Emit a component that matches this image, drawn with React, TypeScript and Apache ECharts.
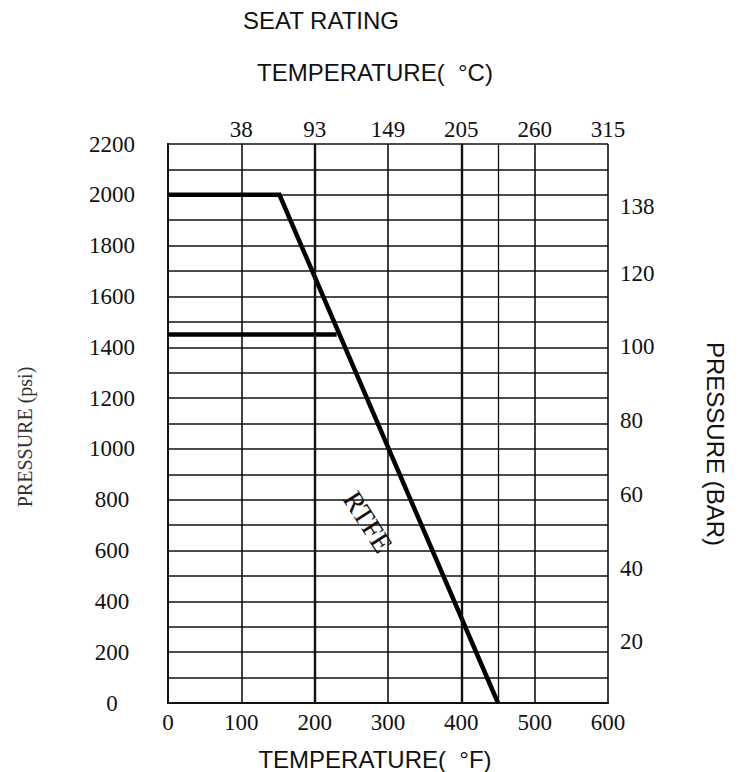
import React, { useEffect, useRef } from "react";
import * as echarts from "echarts";

// Temperature axis (°F) ticks and matching °C labels on the top axis
const fahrenheitTicks = [0, 100, 200, 300, 400, 500, 600];
const celsiusLabels = ["", "38", "93", "149", "205", "260", "315"];
// Extra vertical reference line (°F)
const extraTempLines = [450];
const thickTempLines = [200, 400];
// Left axis (psi): grid every 100, labels every 200
const psiLabelStep = 200;
// Right axis (bar) labels
const barLabels = [20, 40, 60, 80, 100, 120, 138];
const PSI_PER_BAR = 14.5038;
const PSI_MAX = 2200;

// PTFE seat rating curves: [°F, psi]
const ptfeUpper: [number, number][] = [
  [0, 2000],
  [152, 2000],
  [450, 0],
];
const ptfeLower: [number, number][] = [
  [0, 1450],
  [230, 1450],
];

const SERIF = "'Liberation Serif', 'DejaVu Serif', serif";
const SANS = "'Liberation Sans', Arial, sans-serif";
const INK = "#111";

export default function App() {
  const ref = useRef<HTMLDivElement>(null);

  useEffect(() => {
    if (!ref.current) return;
    const chart = echarts.init(ref.current, undefined, { renderer: "svg" });

    const axisLine = { show: true, lineStyle: { color: INK, width: 2 } };

    chart.setOption({
      animation: false,
      backgroundColor: "#fff",
      grid: { left: 168, right: 132, top: 144, bottom: 69, containLabel: false },
      xAxis: [
        {
          type: "value",
          position: "bottom",
          min: fahrenheitTicks[0],
          max: fahrenheitTicks[fahrenheitTicks.length - 1],
          interval: 100,
          axisLine,
          axisTick: { show: false },
          axisLabel: {
            margin: 8,
            fontFamily: SERIF,
            fontSize: 23,
            color: INK,
            formatter: (v: number) => String(v),
          },
          splitLine: { show: true, lineStyle: { color: INK, width: 1.6 } },
        },
        {
          type: "value",
          position: "top",
          min: fahrenheitTicks[0],
          max: fahrenheitTicks[fahrenheitTicks.length - 1],
          interval: 100,
          axisLine,
          axisTick: { show: false },
          axisLabel: {
            margin: 3,
            fontFamily: SERIF,
            fontSize: 23,
            color: INK,
            formatter: (v: number) => celsiusLabels[fahrenheitTicks.indexOf(v)] ?? "",
          },
          splitLine: { show: false },
        },
      ],
      yAxis: [
        {
          type: "value",
          position: "left",
          min: 0,
          max: PSI_MAX,
          interval: 100,
          axisLine,
          axisTick: { show: false },
          axisLabel: {
            margin: 56,
            align: "center",
            fontFamily: SERIF,
            fontSize: 23,
            color: INK,
            formatter: (v: number) => (v % psiLabelStep === 0 ? String(v) : ""),
          },
          splitLine: { show: true, lineStyle: { color: INK, width: 1.6 } },
        },
        {
          type: "value",
          position: "right",
          min: 0,
          max: PSI_MAX / PSI_PER_BAR,
          axisLine,
          axisTick: { show: false },
          axisLabel: {
            customValues: barLabels,
            margin: 12,
            verticalAlign: "top",
            padding: [1, 0, 0, 0],
            fontFamily: SERIF,
            fontSize: 23,
            color: INK,
          },
          splitLine: { show: false },
        },
      ],
      series: [
        {
          type: "line",
          name: "PTFE upper",
          xAxisIndex: 0,
          yAxisIndex: 0,
          data: ptfeUpper,
          symbol: "none",
          lineStyle: { color: "#000", width: 4.5, join: "miter" },
          markLine: {
            silent: true,
            symbol: ["none", "none"],
            label: { show: false },
            data: [
              ...extraTempLines.map((v) => ({
                xAxis: v,
                lineStyle: { color: INK, width: 1.3, type: "solid" },
              })),
              ...thickTempLines.map((v) => ({
                xAxis: v,
                lineStyle: { color: INK, width: 2.4, type: "solid" },
              })),
            ],
          },
        },
        {
          type: "line",
          name: "PTFE lower",
          xAxisIndex: 0,
          yAxisIndex: 0,
          data: ptfeLower,
          symbol: "none",
          lineStyle: { color: "#000", width: 4.5 },
        },
      ],
      graphic: [
        {
          type: "text",
          x: 321,
          y: 20,
          style: {
            text: "SEAT RATING",
            font: `24px ${SANS}`,
            fill: INK,
            align: "center",
            verticalAlign: "middle",
          },
        },
        {
          type: "text",
          x: 375,
          y: 72,
          style: {
            text: "TEMPERATURE(  °C)",
            font: `24px ${SANS}`,
            fill: INK,
            align: "center",
            verticalAlign: "middle",
          },
        },
        {
          type: "text",
          x: 375,
          y: 759,
          style: {
            text: "TEMPERATURE(  °F)",
            font: `24px ${SANS}`,
            fill: INK,
            align: "center",
            verticalAlign: "middle",
          },
        },
        {
          type: "text",
          x: 715,
          y: 444,
          rotation: -Math.PI / 2,
          style: {
            text: "PRESSURE (BAR)",
            font: `24px ${SANS}`,
            fill: INK,
            align: "center",
            verticalAlign: "middle",
          },
        },
        {
          type: "text",
          x: 25,
          y: 437,
          rotation: Math.PI / 2,
          style: {
            text: "PRESSURE (psi)",
            font: `20px ${SERIF}`,
            fill: "#333",
            align: "center",
            verticalAlign: "middle",
          },
        },
        {
          type: "text",
          x: 368,
          y: 522,
          rotation: -1.0,
          style: {
            text: "RTFE",
            font: `28px ${SERIF}`,
            fill: INK,
            align: "center",
            verticalAlign: "middle",
          },
        },
      ],
    });

    return () => chart.dispose();
  }, []);

  return (
    <div
      ref={ref}
      style={{ position: "fixed", left: 0, top: 0, width: 740, height: 772, background: "#fff" }}
    />
  );
}
